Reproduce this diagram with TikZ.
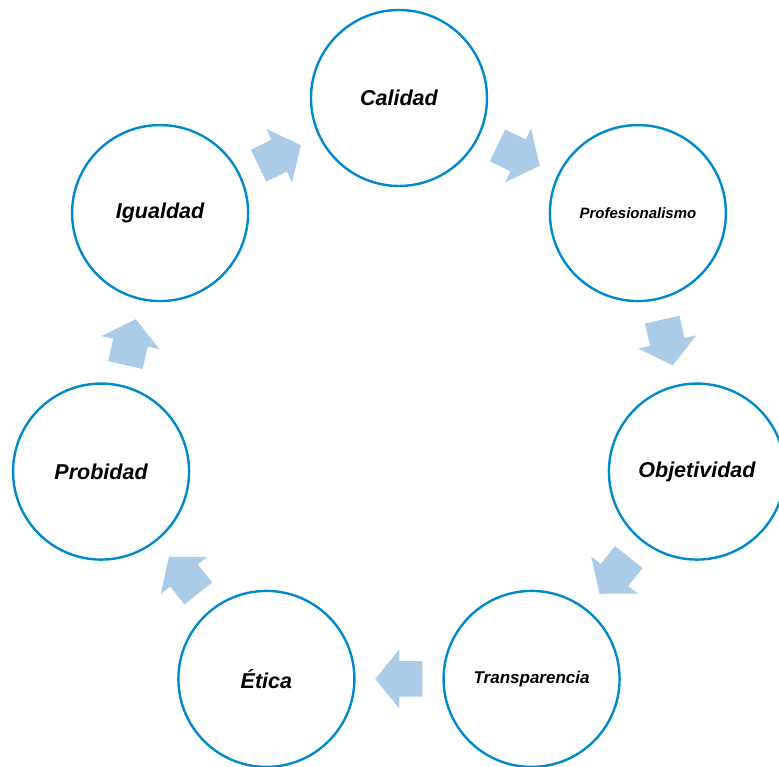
\documentclass[tikz,border=0pt]{standalone}
\usepackage{fontspec}
\setmainfont{Liberation Sans}
\usepackage{tikz}
\usetikzlibrary{shapes.arrows,calc}
\definecolor{ringblue}{RGB}{0,138,204}
\definecolor{arrowblue}{RGB}{170,204,233}

\begin{document}
\begin{tikzpicture}[x=1pt,y=1pt,
	valor/.style={circle, draw=ringblue, line width=2.4pt, minimum size=176pt, inner sep=0pt},
	flecha/.style={single arrow, fill=arrowblue, draw=none, minimum height=47pt, single arrow head extend=12pt, single arrow tip angle=102, inner xsep=0pt, inner ysep=17.5pt, anchor=tail}]
	%\draw [help lines] (-399,-363) grid (380,403);
	\useasboundingbox (-399,403.6) rectangle (380,-363.4);
	\foreach \name/\txt/\sz [count=\i from 0] in {cal/Calidad/21.5, pro/Profesionalismo/15, obj/Objetividad/21.5, tra/Transparencia/17, eti/Ética/21.5, prb/Probidad/21.5, igu/Igualdad/21.5}
		\node [valor, font=\fontsize{\sz}{\sz}\selectfont\bfseries\itshape] (\name) at ({90-\i*360/7}:305.6) {\txt};
	% arrows between the circles, clockwise
	\foreach \a/\b [count=\i from 0] in {cal/pro, pro/obj, obj/tra, tra/eti, eti/prb, prb/igu, igu/cal}
		\node [flecha, rotate={-(\i+0.5)*360/7}] (f\i) at ($(\a.center)!0.5!(\b.center)!23.5pt!(\a.center)$) {};
\end{tikzpicture}
\end{document}
